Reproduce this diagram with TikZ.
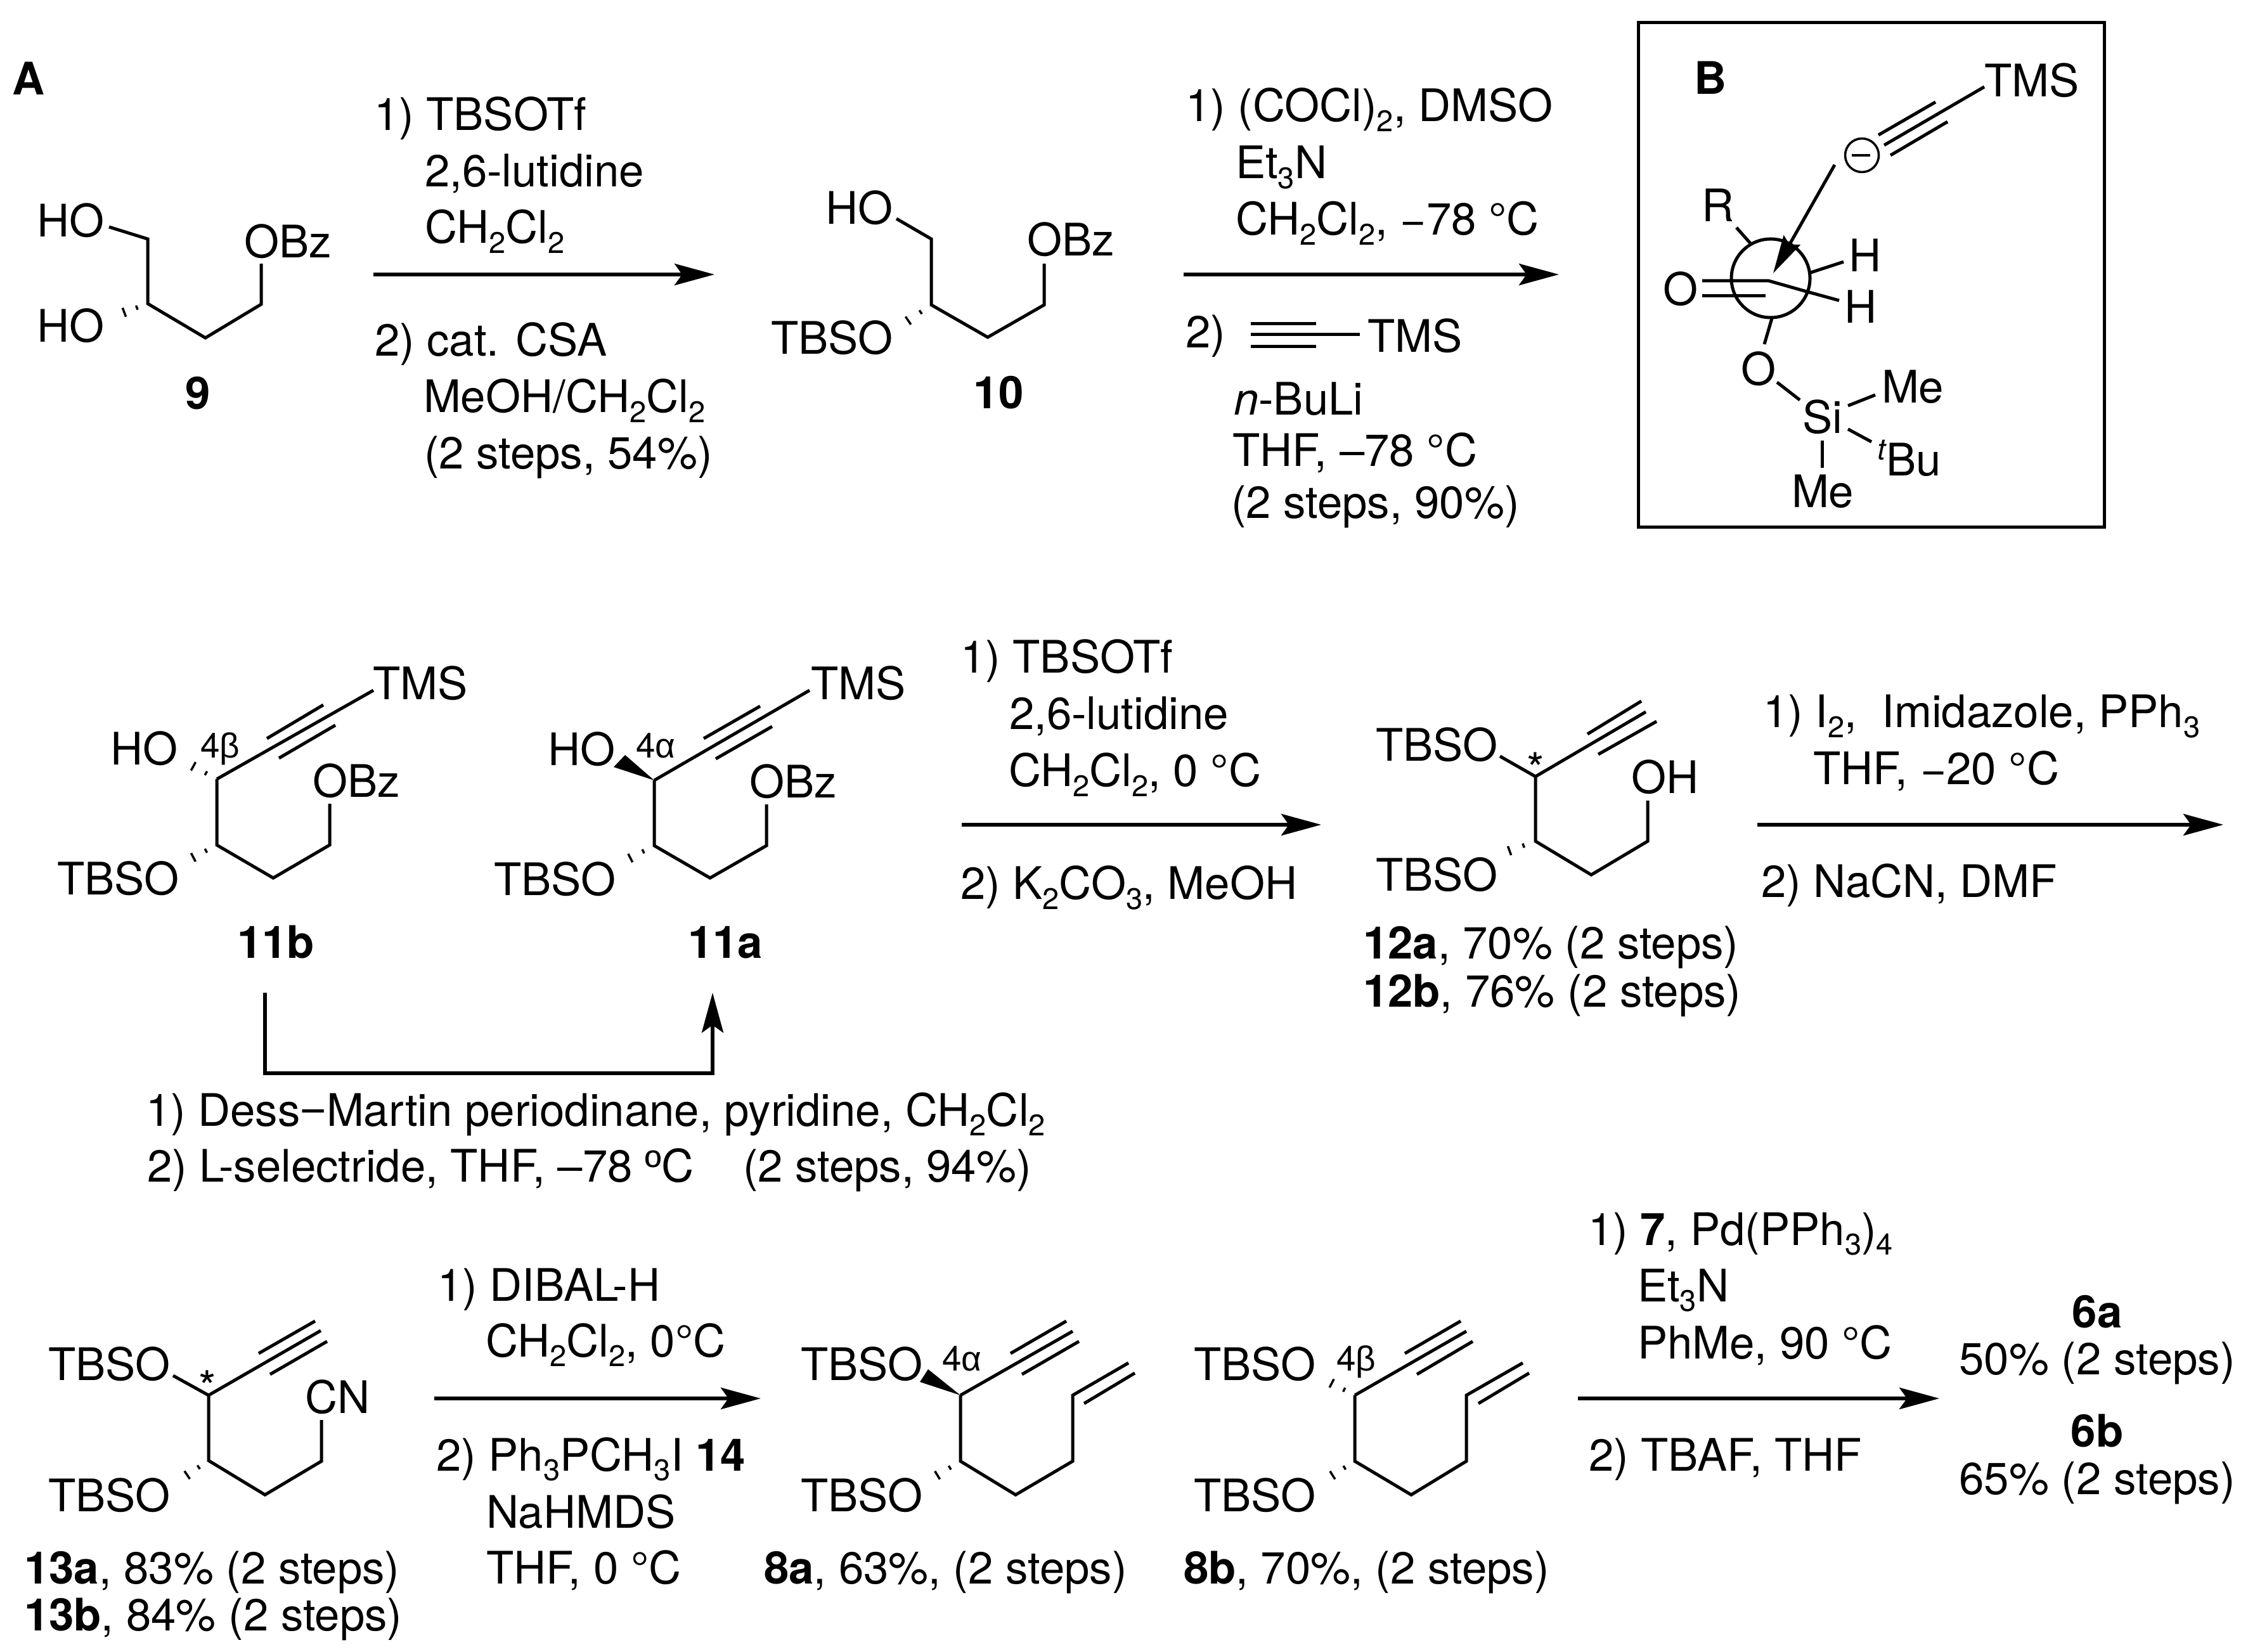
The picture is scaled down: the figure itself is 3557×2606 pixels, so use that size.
\documentclass[tikz,border=0pt]{standalone}
\usepackage{fontspec}
\setmainfont{TeX Gyre Heros}
\newfontfamily\greekf{Liberation Sans}
\usetikzlibrary{arrows.meta,calc}
\newcommand\sbs[1]{\raisebox{-0.22em}{\fontsize{9.4}{10}\selectfont #1}}
\newcommand\Tx[4]{\node[txt] (#1) at (#2,#3) {#4};}
\newcommand\Ct[4]{\node[txt,anchor=base] (#1) at (#2,#3) {#4};}
\newcommand\Sm[4]{\node[txt,font=\fontsize{11}{12}\selectfont] (#1) at (#2,#3) {#4};}
\newcommand\hw[2]{\coordinate (ha) at (#1); \coordinate (hb) at (#2);
  \foreach \hp/\hq in {.3/.7pt,.65/1.5pt,1/2.2pt}{\draw[hashb] ($(ha)!\hp!(hb)!\hq!90:(hb)$) -- ($(ha)!\hp!(hb)!\hq!-90:(hb)$);}}
\tikzset{
  txt/.style={anchor=base west,inner sep=0pt,outer sep=0pt,yshift=-.4pt,font=\fontsize{14.15}{16}\selectfont},
  bond/.style={line width=1pt,line join=miter,line cap=butt},
  hashb/.style={line width=.7pt},
  rxn/.style={line width=1.15pt,-{Stealth[length=12.6pt,width=6.8pt,inset=2.4pt]}},
  thinarrow/.style={line width=1pt,-{Stealth[length=12pt,width=6pt,inset=1.6pt]}},
  framebox/.style={line width=1pt}
}
\begin{document}
\begin{tikzpicture}[x=0.2pt,y=-0.2pt]
\useasboundingbox (0,0) rectangle (3557,2606);
\fill[white] (0,0) rectangle (3557,2606);
%% ---- row 1
\Tx{lA}{19}{148}{\textbf{A}}
% 9
\Tx{m9ho}{58}{372}{HO}
\Tx{m9hob}{58}{538}{HO}
\Tx{m9obz}{385}{405}{OBz}
\Ct{l9}{312}{644}{\textbf{9}}
\draw[bond] (172,358) -- (233,377) -- (233,479) -- (324,533) -- (412,480) -- (412,416);
\hw{233,479}{176,500}
% step 1
\Tx{r1a}{590}{204}{1) TBSOTf}
\Tx{r1b}{670}{293}{2,6-lutidine}
\Tx{r1c}{670}{382}{CH\sbs{2}Cl\sbs{2}}
\Tx{r1d}{591}{560}{2) cat. CSA}
\Tx{r1e}{668}{649}{MeOH/CH\sbs{2}Cl\sbs{2}}
\Tx{r1f}{669}{738}{(2 steps, 54\%)}
\coordinate (a1s) at (589,433); \coordinate (a1e) at (1127,433);
\draw[rxn] (a1s) -- (a1e);
% 10
\Tx{m10ho}{1302}{352}{HO}
\Tx{m10obz}{1620}{402}{OBz}
\Tx{m10tbso}{1216}{557}{TBSO}
\Ct{l10}{1575}{643}{\textbf{10}}
\draw[bond] (1414,345) -- (1469,377) -- (1469,481) -- (1558,532) -- (1647,481) -- (1647,416);
\hw{1469,481}{1413,519}
% step 2
\Tx{r2a}{1870}{190}{1) (COCl)\sbs{2}, DMSO}
\Tx{r2b}{1949}{280}{Et\sbs{3}N}
\Tx{r2c}{1949}{369}{CH\sbs{2}Cl\sbs{2}, −78 °C}
\Tx{r2d}{1870}{547}{2)}
\Tx{r2tms}{2157}{554}{TMS}
\Tx{r2e}{1946}{653}{\textit{n}-BuLi}
\Tx{r2f}{1944}{734}{THF, –78 °C}
\Tx{r2g}{1942}{816}{(2 steps, 90\%)}
\coordinate (a2s) at (1867,433); \coordinate (a2e) at (2459,433);
\draw[rxn] (a2s) -- (a2e);
\draw[bond] (1973,511) -- (2076,511) (1973,528) -- (2145,528) (1973,547) -- (2076,547);
% box B
\draw[framebox] (2584,36) rectangle (3319,832);
\Tx{lB}{2672}{147}{\textbf{B}}
\Tx{bTMS}{3130}{151}{TMS}
\draw[bond] (2972,229) -- (3130,137) (2963,213) -- (3053,161) (2982,245) -- (3072,192);
\node[circle,draw,line width=.7pt,minimum size=53*0.2pt,inner sep=0pt] (bminus) at (2937,245) {};
\draw[line width=.7pt] (2921,245) -- (2950,245);
\coordinate (bas) at (2894,260); \coordinate (bae) at (2797,431);
\Tx{bR}{2684}{348}{R}
\draw[bond] (2739,359) -- (2762,385);
\node[circle,draw,line width=1pt,minimum size=124*0.2pt,inner sep=0pt] (bnewman) at (2793,439) {};
\draw[thinarrow] (bas) -- (bae);
\Tx{bH1}{2916}{427}{H}
\Tx{bH2}{2909}{508}{H}
\draw[bond] (2856,430) -- (2908,413);
\draw[bond] (2685,443) -- (2790,443) -- (2850,460) -- (2901,474);
\draw[bond] (2685,467) -- (2785,467);
\Tx{bO1}{2623}{480}{O}
\draw[bond] (2795,502) -- (2783,543);
\Tx{bO2}{2746}{606}{O}
\draw[bond] (2803,603) -- (2839,631);
\Tx{bSi}{2843}{682}{Si}
\Tx{bMe1}{2968}{634}{Me}
\draw[bond] (2915,640) -- (2958,623);
\draw[bond] (2915,677) -- (2952,697);
\node[txt,font=\fontsize{9.4}{11}\selectfont\itshape] (bt) at (2961,724) {t};
\Tx{bBu}{2975}{749}{Bu}
\draw[bond] (2874,695) -- (2874,738);
\Tx{bMe2}{2826}{799}{Me}
%% ---- row 2
% 11b
\Tx{m11bTMS}{588}{1102}{TMS}
\draw[bond] (342,1229) -- (589,1089) (421,1165) -- (510,1112) (440,1196) -- (529,1144);
\draw[bond] (342,1229) -- (342,1333) -- (431,1385) -- (520,1333) -- (520,1268);
\Tx{m11bobz}{493}{1256}{OBz}
\Tx{m11bho}{174}{1205}{HO}
\hw{342,1229}{285,1198}
\Sm{m11bn}{316}{1194}{4{\greekf β}}
\Tx{m11btb}{90}{1410}{TBSO}
\hw{342,1333}{285,1363}
\Ct{l11b}{435}{1510}{\textbf{11b}}
% 11a
\Tx{m11aTMS}{1279}{1102}{TMS}
\draw[bond] (1032,1231) -- (1277,1089) (1110,1165) -- (1199,1114) (1129,1197) -- (1218,1146);
\draw[bond] (1032,1231) -- (1032,1334) -- (1120,1385) -- (1209,1334) -- (1209,1269);
\Tx{m11aobz}{1182}{1257}{OBz}
\Tx{m11aho}{864}{1206}{HO}
\fill (1032,1231) -- (986,1191) -- (968,1210) -- cycle;
\Sm{m11an}{1003}{1194}{4{\greekf α}}
\Tx{m11atb}{779}{1411}{TBSO}
\hw{1032,1334}{974,1364}
\Ct{l11a}{1144}{1510}{\textbf{11a}}
% U arrow
\coordinate (us) at (418,1566); \coordinate (u1) at (418,1693); \coordinate (u2) at (1124,1693); \coordinate (ue) at (1124,1566);
\draw[rxn] (us) -- (u1) -- (u2) -- (ue);
\Tx{u1t}{230}{1774}{1) Dess{\greekf −}Martin periodinane, pyridine, CH\sbs{2}Cl\sbs{2}}
\Tx{u2t}{232}{1862}{2) L-selectride, THF, –78 {\greekf º}C}
\Tx{u3t}{1172}{1862}{(2 steps, 94\%)}
% step 3
\Tx{r3a}{1515}{1060}{1) TBSOTf}
\Tx{r3b}{1592}{1149}{2,6-lutidine}
\Tx{r3c}{1591}{1239}{CH\sbs{2}Cl\sbs{2}, 0 °C}
\Tx{r3d}{1515}{1417}{2) K\sbs{2}CO\sbs{3}, MeOH}
\coordinate (a3s) at (1517,1301); \coordinate (a3e) at (2084,1301);
\draw[rxn] (a3s) -- (a3e);
% 12
\Tx{m12t1}{2170}{1199}{TBSO}
\draw[bond] (2366,1193) -- (2422,1225) -- (2596,1123);
\draw[bond] (2504,1158) -- (2589,1106) (2521,1190) -- (2613,1138);
\Ct{m12s}{2422}{1237}{*}
\Tx{m12oh}{2573}{1250}{OH}
\draw[bond] (2422,1225) -- (2422,1327) -- (2510,1380) -- (2599,1327) -- (2599,1263);
\Tx{m12t2}{2170}{1404}{TBSO}
\hw{2422,1327}{2359,1350}
\Tx{l12a}{2150}{1511}{\textbf{12a}, 70\% (2 steps)}
\Tx{l12b}{2150}{1586}{\textbf{12b}, 76\% (2 steps)}
% step 4
\Tx{r4a}{2781}{1146}{1) I\sbs{2},\ \ Imidazole, PPh\sbs{3}}
\Tx{r4b}{2860}{1236}{THF, −20 °C}
\Tx{r4c}{2778}{1414}{2) NaCN, DMF}
\coordinate (a4s) at (2772,1301); \coordinate (a4e) at (3507,1301);
\draw[rxn] (a4s) -- (a4e);
%% ---- row 3
% 13
\Tx{m13t1}{76}{2175}{TBSO}
\draw[bond] (273,2170) -- (329,2201) -- (506,2099);
\draw[bond] (408,2135) -- (497,2084) (426,2168) -- (516,2116);
\Ct{m13s}{327}{2211}{*}
\draw[bond] (329,2201) -- (329,2304) -- (418,2358) -- (507,2305) -- (507,2240);
\Tx{m13cn}{481}{2227}{CN}
\Tx{m13t2}{76}{2382}{TBSO}
\hw{329,2304}{277,2339}
\Tx{l13a}{38}{2496}{\textbf{13a}, 83\% (2 steps)}
\Tx{l13b}{38}{2570}{\textbf{13b}, 84\% (2 steps)}
% step 5
\Tx{r5a}{690}{2050}{1) DIBAL-H}
\Tx{r5b}{766}{2138}{CH\sbs{2}Cl\sbs{2}, 0°C}
\Tx{r5c}{688}{2318}{2) Ph\sbs{3}PCH\sbs{3}I \textbf{14}}
\Tx{r5d}{767}{2408}{NaHMDS}
\Tx{r5e}{767}{2496}{THF, 0 °C}
\coordinate (a5s) at (685,2206); \coordinate (a5e) at (1200,2206);
\draw[rxn] (a5s) -- (a5e);
% 8a
\Tx{m8at1}{1263}{2175}{TBSO}
\fill (1515,2201) -- (1464,2160) -- (1451,2180) -- cycle;
\Sm{m8an}{1486}{2160}{4{\greekf α}}
\draw[bond] (1515,2201) -- (1692,2100) (1594,2135) -- (1682,2084) (1612,2168) -- (1702,2116);
\draw[bond] (1515,2201) -- (1515,2305) -- (1602,2358) -- (1692,2305) -- (1692,2201) -- (1780,2150);
\draw[bond] (1710,2214) -- (1790,2166);
\Tx{m8at2}{1263}{2382}{TBSO}
\hw{1515,2305}{1459,2339}
\Tx{l8a}{1205}{2496}{\textbf{8a}, 63\%, (2 steps)}
% 8b
\Tx{m8bt1}{1883}{2175}{TBSO}
\hw{2137,2201}{2081,2172}
\Sm{m8bn}{2108}{2160}{4{\greekf β}}
\draw[bond] (2137,2201) -- (2313,2100) (2216,2135) -- (2304,2084) (2235,2168) -- (2323,2116);
\draw[bond] (2137,2201) -- (2137,2305) -- (2226,2358) -- (2313,2305) -- (2313,2201) -- (2402,2150);
\draw[bond] (2332,2214) -- (2412,2166);
\Tx{m8bt2}{1883}{2382}{TBSO}
\hw{2137,2305}{2083,2339}
\Tx{l8b}{1867}{2496}{\textbf{8b}, 70\%, (2 steps)}
% step 6
\Tx{r6a}{2505}{1962}{1) \textbf{7}, Pd(PPh\sbs{3})\sbs{4}}
\Tx{r6b}{2583}{2051}{Et\sbs{3}N}
\Tx{r6c}{2583}{2141}{PhMe, 90 °C}
\Tx{r6d}{2506}{2318}{2) TBAF, THF}
\coordinate (a6s) at (2489,2206); \coordinate (a6e) at (3059,2206);
\draw[rxn] (a6s) -- (a6e);
\Ct{l6a}{3308}{2092}{\textbf{6a}}
\Ct{y6a}{3308}{2166}{50\% (2 steps)}
\Ct{l6b}{3308}{2280}{\textbf{6b}}
\Ct{y6b}{3308}{2355}{65\% (2 steps)}
\end{tikzpicture}
\end{document}
